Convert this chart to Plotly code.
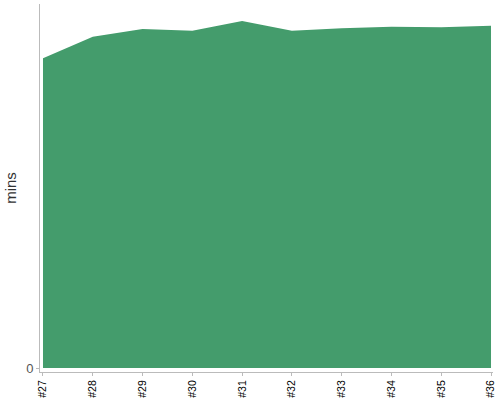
import plotly.graph_objects as go

builds = ["#27", "#28", "#29", "#30", "#31", "#32", "#33", "#34", "#35", "#36"]
mins = [30.97, 33.13, 33.9, 33.73, 34.7, 33.73, 33.97, 34.13, 34.07, 34.23]

fig = go.Figure(go.Scatter(
    x=builds, y=mins, mode="lines", fill="tozeroy",
    line=dict(width=0, color="#449c6c"), fillcolor="#449c6c",
    hoverinfo="x+y",
))

fig.update_layout(
    width=500, height=400,
    margin=dict(l=40, r=7, t=4, b=28, autoexpand=False),
    paper_bgcolor="white", plot_bgcolor="white",
    showlegend=False,
    font=dict(family="Liberation Sans, Arial, sans-serif"),
    xaxis=dict(
        type="category", range=[-0.06, 9.04], automargin=False,
        showgrid=False, zeroline=False,
        showline=True, linecolor="#bbbbbb", linewidth=1,
        ticks="outside", ticklen=3, tickcolor="#bbbbbb",
        tickangle=-90, tickfont=dict(size=10.5, color="#000000"),
    ),
    yaxis=dict(
        range=[-0.4, 36.4], automargin=False,
        showgrid=False, zeroline=False,
        showline=True, linecolor="#bbbbbb", linewidth=1,
        tickvals=[0], ticktext=["0"],
        ticks="outside", ticklen=3, tickcolor="#bbbbbb",
        tickfont=dict(size=13, color="#555555"),
        title=dict(text="mins", font=dict(size=15, color="#333333"), standoff=5),
    ),
)

fig.write_html(
    "out.html",
    config={"displayModeBar": False},
    post_script="document.body.style.margin='0';document.body.style.overflow='hidden';",
)
